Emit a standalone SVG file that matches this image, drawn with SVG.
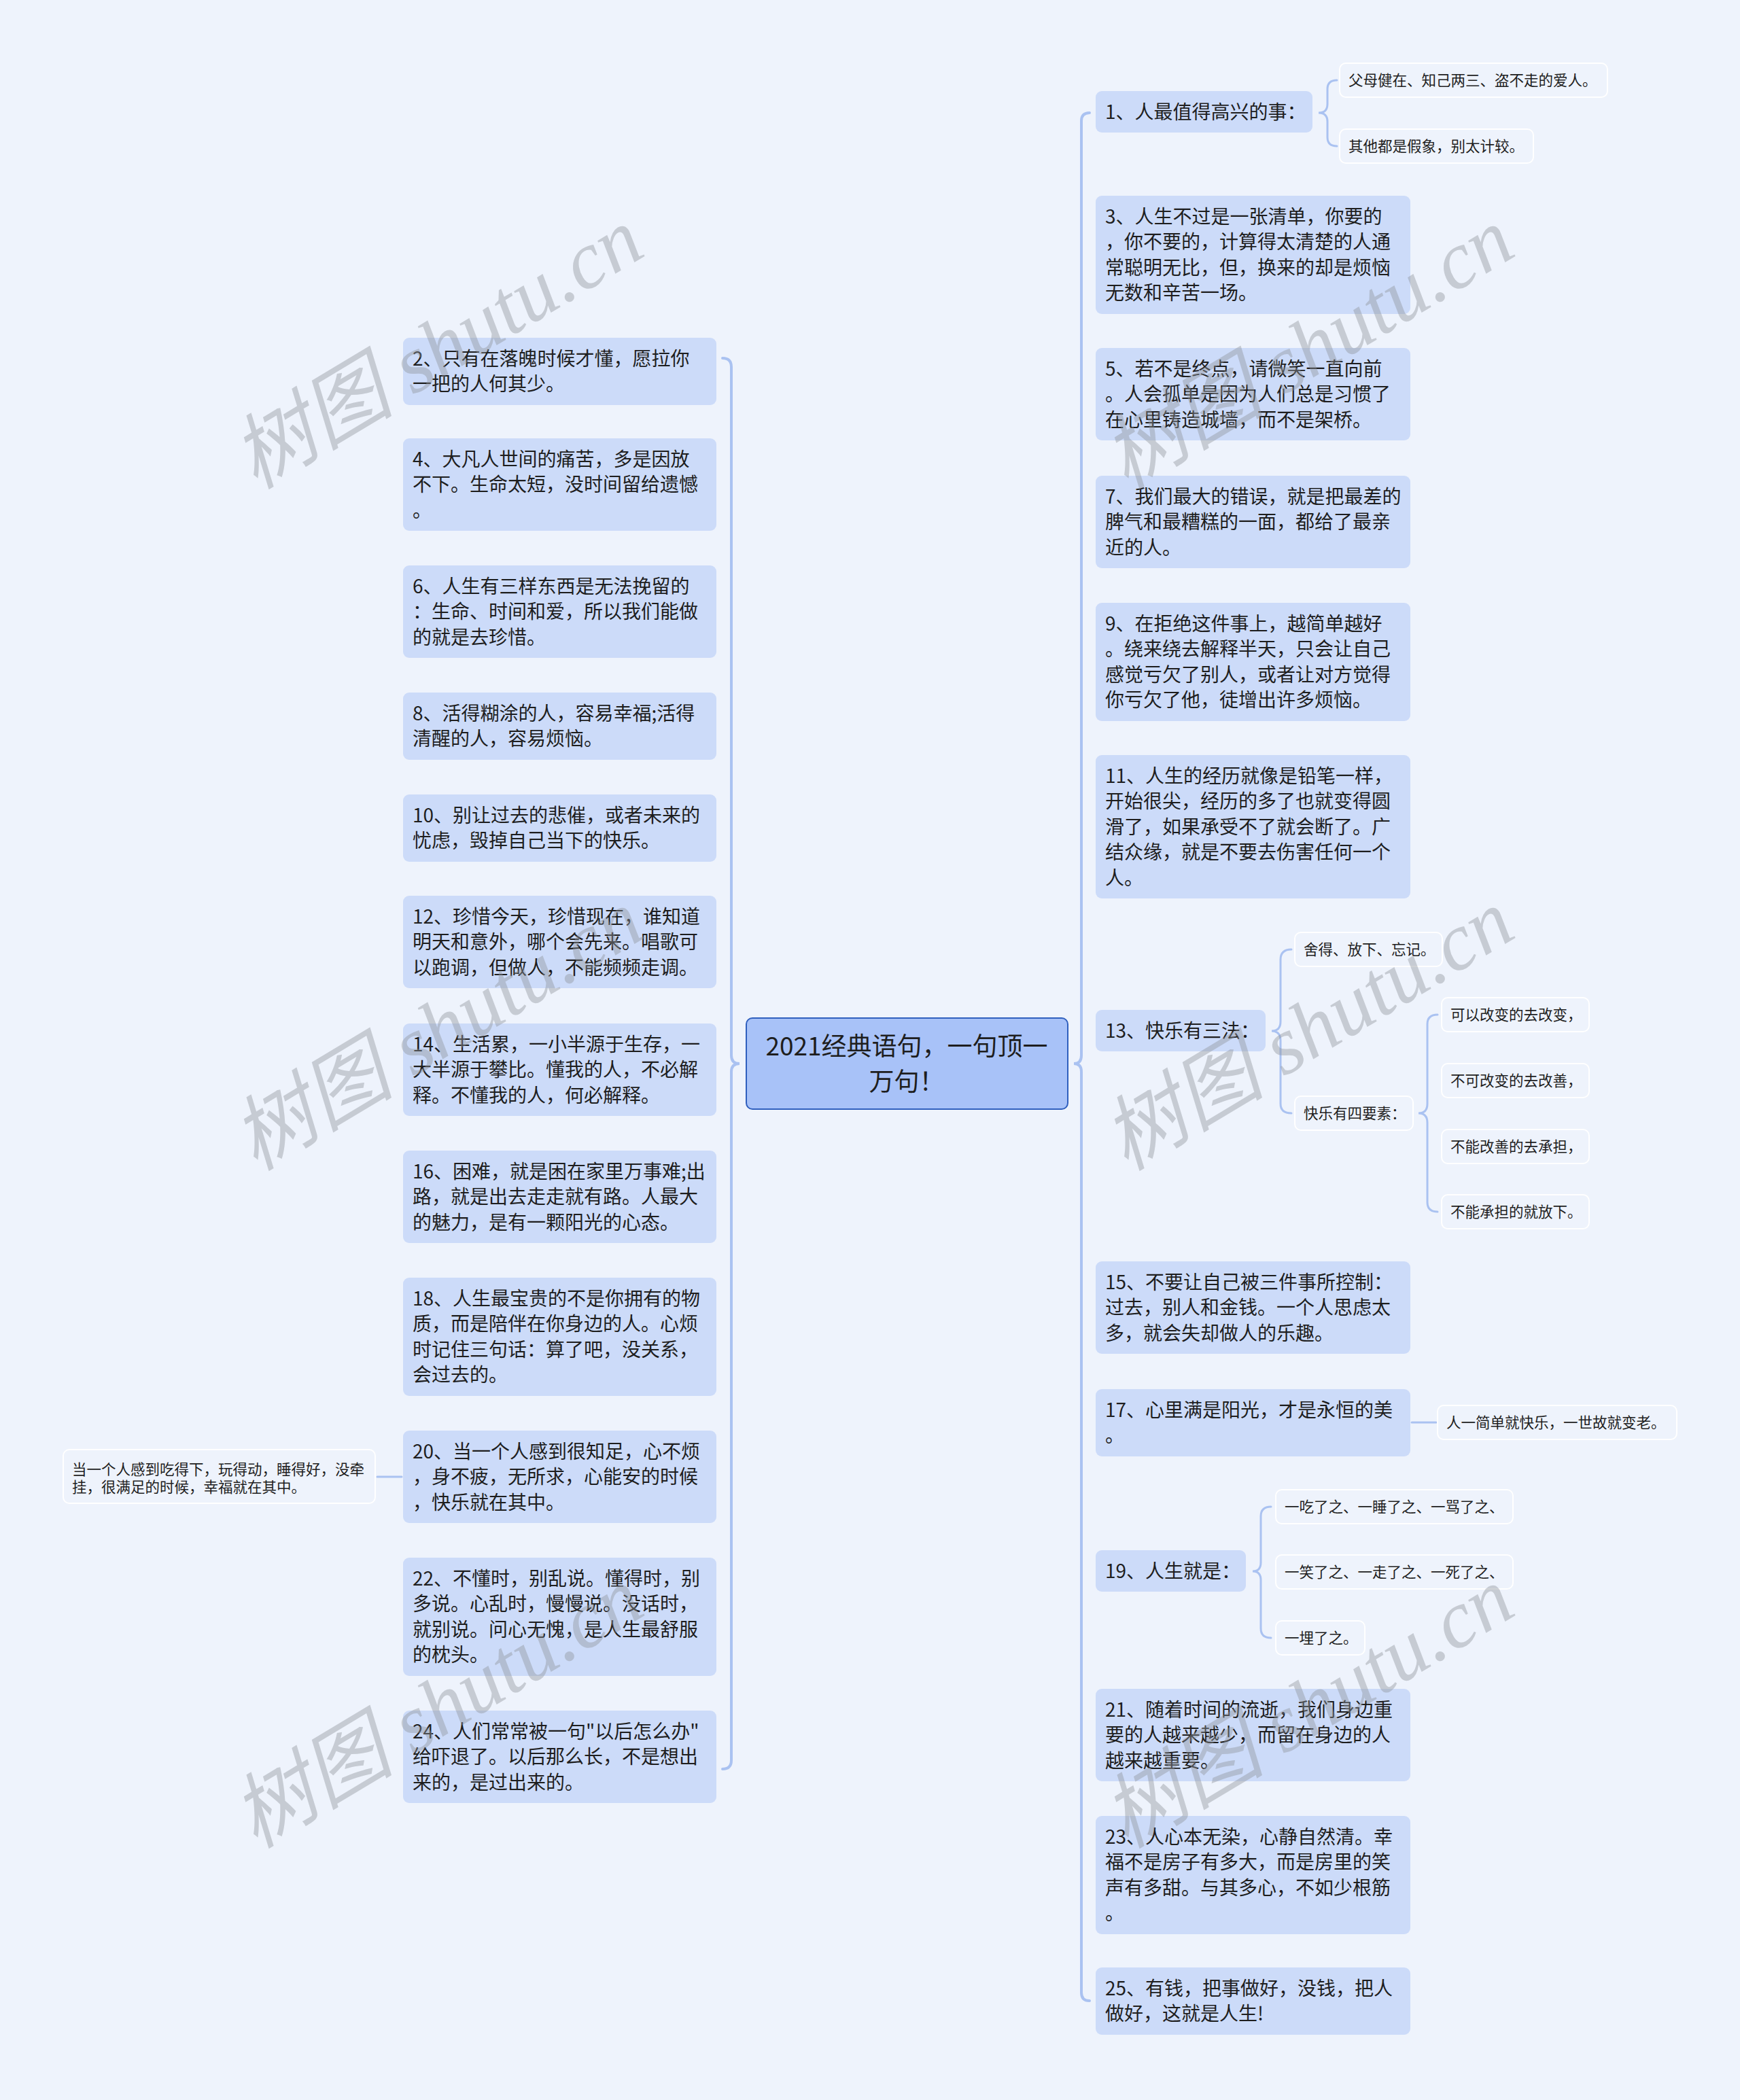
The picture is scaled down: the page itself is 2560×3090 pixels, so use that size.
<svg xmlns="http://www.w3.org/2000/svg" width="2560" height="3090" viewBox="0 0 2560 3090">
<style>
.bg{fill:#eef3fc}
.main{fill:#ccdbf9}
.sub{fill:#eef3fc;stroke:#ffffff;stroke-width:2}
.root{fill:#a8c2f8;stroke:#2f5fbe;stroke-width:2}
.t{font-family:"Noto Sans CJK SC","Noto Sans",sans-serif;font-size:28px;fill:#1e1e1e}
.ts{font-family:"Noto Sans CJK SC","Noto Sans",sans-serif;font-size:21.5px;fill:#1e1e1e}
.tr{font-family:"Noto Sans CJK SC","Noto Sans",sans-serif;font-size:37px;fill:#1e1e1e}
.c{fill:none;stroke:#aac2f1;stroke-width:4;stroke-linecap:round}
.c2{fill:none;stroke:#aac2f1;stroke-width:3;stroke-linecap:round}
.wm{font-family:"Liberation Serif","Noto Sans CJK SC",serif;font-style:italic;font-size:120px;fill:#8e949c;fill-opacity:0.42}
</style>
<rect class="bg" x="0" y="0" width="2560" height="3090"/>

<g id="connectors">
<path class="c" d="M1603 166 Q1591 166 1591 178 L1591 1553 Q1591 1565 1580 1565 Q1591 1565 1591 1577 L1591 2932 Q1591 2944 1603 2944"/>
<path class="c" d="M1063 527 Q1076 527 1076 540 L1076 1553 Q1076 1565 1088 1565 Q1076 1565 1076 1577 L1076 2590 Q1076 2603 1063 2603"/>
<path class="c2" d="M1967 118 Q1953 118 1953 131 L1953 153 Q1953 166 1940 166 Q1953 166 1953 179 L1953 202 Q1953 215 1967 215"/>
<path class="c2" d="M1900 1397 Q1884 1397 1884 1412 L1884 1503 Q1884 1517 1871 1517 Q1884 1517 1884 1531 L1884 1624 Q1884 1638 1900 1638"/>
<path class="c2" d="M2115 1493 Q2100 1493 2100 1507 L2100 1624 Q2100 1638 2087 1638 Q2100 1638 2100 1652 L2100 1769 Q2100 1783 2115 1783"/>
<path class="c2" d="M1870 2217 Q1855 2217 1855 2231 L1855 2299 Q1855 2312 1843 2312 Q1855 2312 1855 2325 L1855 2396 Q1855 2410 1870 2410"/>
<path class="c2" d="M2077 2093 L2113 2093"/>
<path class="c2" d="M555 2173 L591 2173"/>
</g>

<g id="root">
<rect class="root" x="1098" y="1498" width="473" height="134" rx="9"/>
<text class="tr" text-anchor="middle"><tspan x="1334" y="1553">2021经典语句，一句顶一</tspan><tspan x="1334" y="1605">万句！</tspan></text>
</g>

<!-- right main nodes -->
<g id="n1"><rect class="main" x="1612" y="134" width="319" height="61" rx="9"/>
<text class="t"><tspan x="1626" y="175">1、人最值得高兴的事：</tspan></text></g>
<g id="n1a"><rect class="sub" x="1971" y="93" width="394" height="50" rx="9"/>
<text class="ts"><tspan x="1984" y="126">父母健在、知己两三、盗不走的爱人。</tspan></text></g>
<g id="n1b"><rect class="sub" x="1971" y="190" width="285" height="50" rx="9"/>
<text class="ts"><tspan x="1984" y="223">其他都是假象，别太计较。</tspan></text></g>

<g id="n3"><rect class="main" x="1612" y="288" width="463" height="174" rx="9"/>
<text class="t"><tspan x="1626" y="329">3、人生不过是一张清单，你要的</tspan><tspan x="1626" y="366">，你不要的，计算得太清楚的人通</tspan><tspan x="1626" y="404">常聪明无比，但，换来的却是烦恼</tspan><tspan x="1626" y="441">无数和辛苦一场。</tspan></text></g>

<g id="n5"><rect class="main" x="1612" y="512" width="463" height="136" rx="9"/>
<text class="t"><tspan x="1626" y="553">5、若不是终点，请微笑一直向前</tspan><tspan x="1626" y="590">。人会孤单是因为人们总是习惯了</tspan><tspan x="1626" y="628">在心里铸造城墙，而不是架桥。</tspan></text></g>

<g id="n7"><rect class="main" x="1612" y="700" width="463" height="136" rx="9"/>
<text class="t"><tspan x="1626" y="741">7、我们最大的错误，就是把最差的</tspan><tspan x="1626" y="778">脾气和最糟糕的一面，都给了最亲</tspan><tspan x="1626" y="816">近的人。</tspan></text></g>

<g id="n9"><rect class="main" x="1612" y="887" width="463" height="174" rx="9"/>
<text class="t"><tspan x="1626" y="928">9、在拒绝这件事上，越简单越好</tspan><tspan x="1626" y="965">。绕来绕去解释半天，只会让自己</tspan><tspan x="1626" y="1003">感觉亏欠了别人，或者让对方觉得</tspan><tspan x="1626" y="1040">你亏欠了他，徒增出许多烦恼。</tspan></text></g>

<g id="n11"><rect class="main" x="1612" y="1111" width="463" height="211" rx="9"/>
<text class="t"><tspan x="1626" y="1152">11、人生的经历就像是铅笔一样，</tspan><tspan x="1626" y="1189">开始很尖，经历的多了也就变得圆</tspan><tspan x="1626" y="1227">滑了，如果承受不了就会断了。广</tspan><tspan x="1626" y="1264">结众缘，就是不要去伤害任何一个</tspan><tspan x="1626" y="1302">人。</tspan></text></g>

<g id="n13"><rect class="main" x="1612" y="1486" width="250" height="61" rx="9"/>
<text class="t"><tspan x="1626" y="1527">13、快乐有三法：</tspan></text></g>
<g id="n13a"><rect class="sub" x="1905" y="1372" width="217" height="50" rx="9"/>
<text class="ts"><tspan x="1918" y="1405">舍得、放下、忘记。</tspan></text></g>
<g id="n13b"><rect class="sub" x="1905" y="1613" width="174" height="50" rx="9"/>
<text class="ts"><tspan x="1918" y="1646">快乐有四要素：</tspan></text></g>
<g id="n13b1"><rect class="sub" x="2121" y="1468" width="217" height="50" rx="9"/>
<text class="ts"><tspan x="2134" y="1501">可以改变的去改变，</tspan></text></g>
<g id="n13b2"><rect class="sub" x="2121" y="1565" width="217" height="50" rx="9"/>
<text class="ts"><tspan x="2134" y="1598">不可改变的去改善，</tspan></text></g>
<g id="n13b3"><rect class="sub" x="2121" y="1662" width="217" height="50" rx="9"/>
<text class="ts"><tspan x="2134" y="1695">不能改善的去承担，</tspan></text></g>
<g id="n13b4"><rect class="sub" x="2121" y="1758" width="217" height="50" rx="9"/>
<text class="ts"><tspan x="2134" y="1791">不能承担的就放下。</tspan></text></g>

<g id="n15"><rect class="main" x="1612" y="1856" width="463" height="136" rx="9"/>
<text class="t"><tspan x="1626" y="1897">15、不要让自己被三件事所控制：</tspan><tspan x="1626" y="1934">过去，别人和金钱。一个人思虑太</tspan><tspan x="1626" y="1972">多，就会失却做人的乐趣。</tspan></text></g>

<g id="n17"><rect class="main" x="1612" y="2044" width="463" height="99" rx="9"/>
<text class="t"><tspan x="1626" y="2085">17、心里满是阳光，才是永恒的美</tspan><tspan x="1626" y="2122">。</tspan></text></g>
<g id="n17a"><rect class="sub" x="2115" y="2068" width="352" height="50" rx="9"/>
<text class="ts"><tspan x="2128" y="2101">人一简单就快乐，一世故就变老。</tspan></text></g>

<g id="n19"><rect class="main" x="1612" y="2281" width="221" height="61" rx="9"/>
<text class="t"><tspan x="1626" y="2322">19、人生就是：</tspan></text></g>
<g id="n19a"><rect class="sub" x="1877" y="2192" width="349" height="50" rx="9"/>
<text class="ts"><tspan x="1890" y="2225">一吃了之、一睡了之、一骂了之、</tspan></text></g>
<g id="n19b"><rect class="sub" x="1877" y="2288" width="349" height="50" rx="9"/>
<text class="ts"><tspan x="1890" y="2321">一笑了之、一走了之、一死了之、</tspan></text></g>
<g id="n19c"><rect class="sub" x="1877" y="2385" width="131" height="50" rx="9"/>
<text class="ts"><tspan x="1890" y="2418">一埋了之。</tspan></text></g>

<g id="n21"><rect class="main" x="1612" y="2485" width="463" height="136" rx="9"/>
<text class="t"><tspan x="1626" y="2526">21、随着时间的流逝，我们身边重</tspan><tspan x="1626" y="2563">要的人越来越少，而留在身边的人</tspan><tspan x="1626" y="2601">越来越重要。</tspan></text></g>

<g id="n23"><rect class="main" x="1612" y="2672" width="463" height="174" rx="9"/>
<text class="t"><tspan x="1626" y="2713">23、人心本无染，心静自然清。幸</tspan><tspan x="1626" y="2750">福不是房子有多大，而是房里的笑</tspan><tspan x="1626" y="2788">声有多甜。与其多心，不如少根筋</tspan><tspan x="1626" y="2825">。</tspan></text></g>

<g id="n25"><rect class="main" x="1612" y="2895" width="463" height="99" rx="9"/>
<text class="t"><tspan x="1626" y="2936">25、有钱，把事做好，没钱，把人</tspan><tspan x="1626" y="2973">做好，这就是人生!</tspan></text></g>

<!-- left main nodes -->
<g id="n2"><rect class="main" x="593" y="497" width="461" height="99" rx="9"/>
<text class="t"><tspan x="607" y="538">2、只有在落魄时候才懂，愿拉你</tspan><tspan x="607" y="575">一把的人何其少。</tspan></text></g>

<g id="n4"><rect class="main" x="593" y="645" width="461" height="136" rx="9"/>
<text class="t"><tspan x="607" y="686">4、大凡人世间的痛苦，多是因放</tspan><tspan x="607" y="723">不下。生命太短，没时间留给遗憾</tspan><tspan x="607" y="761">。</tspan></text></g>

<g id="n6"><rect class="main" x="593" y="832" width="461" height="136" rx="9"/>
<text class="t"><tspan x="607" y="873">6、人生有三样东西是无法挽留的</tspan><tspan x="607" y="910">：生命、时间和爱，所以我们能做</tspan><tspan x="607" y="948">的就是去珍惜。</tspan></text></g>

<g id="n8"><rect class="main" x="593" y="1019" width="461" height="99" rx="9"/>
<text class="t"><tspan x="607" y="1060">8、活得糊涂的人，容易幸福;活得</tspan><tspan x="607" y="1097">清醒的人，容易烦恼。</tspan></text></g>

<g id="n10"><rect class="main" x="593" y="1169" width="461" height="99" rx="9"/>
<text class="t"><tspan x="607" y="1210">10、别让过去的悲催，或者未来的</tspan><tspan x="607" y="1247">忧虑，毁掉自己当下的快乐。</tspan></text></g>

<g id="n12"><rect class="main" x="593" y="1318" width="461" height="136" rx="9"/>
<text class="t"><tspan x="607" y="1359">12、珍惜今天，珍惜现在，谁知道</tspan><tspan x="607" y="1396">明天和意外，哪个会先来。唱歌可</tspan><tspan x="607" y="1434">以跑调，但做人，不能频频走调。</tspan></text></g>

<g id="n14"><rect class="main" x="593" y="1506" width="461" height="136" rx="9"/>
<text class="t"><tspan x="607" y="1547">14、生活累，一小半源于生存，一</tspan><tspan x="607" y="1584">大半源于攀比。懂我的人，不必解</tspan><tspan x="607" y="1622">释。不懂我的人，何必解释。</tspan></text></g>

<g id="n16"><rect class="main" x="593" y="1693" width="461" height="136" rx="9"/>
<text class="t"><tspan x="607" y="1734">16、困难，就是困在家里万事难;出</tspan><tspan x="607" y="1771">路，就是出去走走就有路。人最大</tspan><tspan x="607" y="1809">的魅力，是有一颗阳光的心态。</tspan></text></g>

<g id="n18"><rect class="main" x="593" y="1880" width="461" height="174" rx="9"/>
<text class="t"><tspan x="607" y="1921">18、人生最宝贵的不是你拥有的物</tspan><tspan x="607" y="1958">质，而是陪伴在你身边的人。心烦</tspan><tspan x="607" y="1996">时记住三句话：算了吧，没关系，</tspan><tspan x="607" y="2033">会过去的。</tspan></text></g>

<g id="n20"><rect class="main" x="593" y="2105" width="461" height="136" rx="9"/>
<text class="t"><tspan x="607" y="2146">20、当一个人感到很知足，心不烦</tspan><tspan x="607" y="2183">，身不疲，无所求，心能安的时候</tspan><tspan x="607" y="2221">，快乐就在其中。</tspan></text></g>
<g id="n20a"><rect class="sub" x="93" y="2133" width="459" height="79" rx="9"/>
<text class="ts"><tspan x="106" y="2170">当一个人感到吃得下，玩得动，睡得好，没牵</tspan><tspan x="106" y="2196">挂，很满足的时候，幸福就在其中。</tspan></text></g>

<g id="n22"><rect class="main" x="593" y="2292" width="461" height="174" rx="9"/>
<text class="t"><tspan x="607" y="2333">22、不懂时，别乱说。懂得时，别</tspan><tspan x="607" y="2370">多说。心乱时，慢慢说。没话时，</tspan><tspan x="607" y="2408">就别说。问心无愧，是人生最舒服</tspan><tspan x="607" y="2445">的枕头。</tspan></text></g>

<g id="n24"><rect class="main" x="593" y="2517" width="461" height="136" rx="9"/>
<text class="t"><tspan x="607" y="2558">24、人们常常被一句"以后怎么办"</tspan><tspan x="607" y="2595">给吓退了。以后那么长，不是想出</tspan><tspan x="607" y="2633">来的，是过出来的。</tspan></text></g>

<g id="watermarks">
<text class="wm" text-anchor="middle" transform="translate(645,515) rotate(-31)" y="38">树图 shutu.cn</text>
<text class="wm" text-anchor="middle" transform="translate(645,1518) rotate(-31)" y="38">树图 shutu.cn</text>
<text class="wm" text-anchor="middle" transform="translate(645,2515) rotate(-31)" y="38">树图 shutu.cn</text>
<text class="wm" text-anchor="middle" transform="translate(1926,515) rotate(-31)" y="38">树图 shutu.cn</text>
<text class="wm" text-anchor="middle" transform="translate(1926,1518) rotate(-31)" y="38">树图 shutu.cn</text>
<text class="wm" text-anchor="middle" transform="translate(1926,2515) rotate(-31)" y="38">树图 shutu.cn</text>
</g>
</svg>
